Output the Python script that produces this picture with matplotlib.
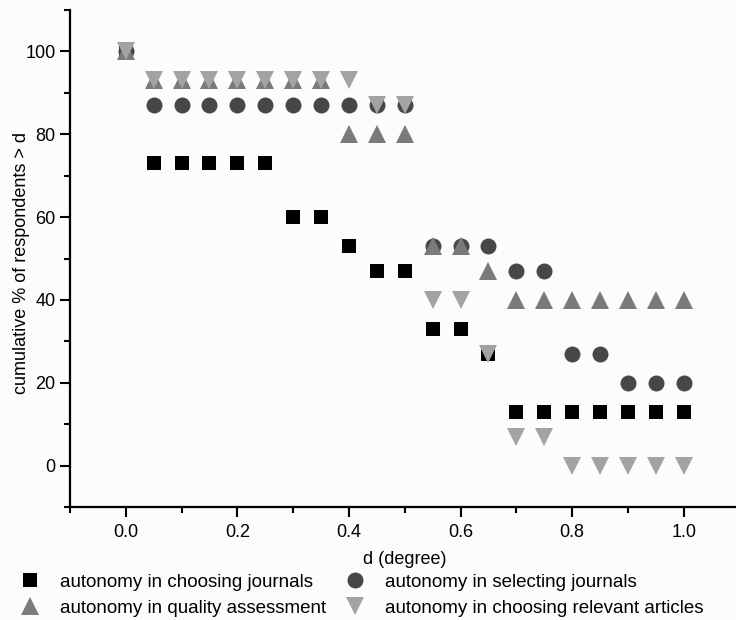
#!/usr/bin/env python3
import matplotlib
matplotlib.use('Agg')
import matplotlib.pyplot as plt
import numpy as np

# d values (degree)
d = [0.0, 0.05, 0.1, 0.15, 0.2, 0.25, 0.3, 0.35, 0.4, 0.45, 0.5,
     0.55, 0.6, 0.65, 0.7, 0.75, 0.8, 0.85, 0.9, 0.95, 1.0]

# cumulative % of respondents > d
choosing_journals = [100, 73, 73, 73, 73, 73, 60, 60, 53, 47, 47,
                     33, 33, 27, 13, 13, 13, 13, 13, 13, 13]
selecting_journals = [100, 87, 87, 87, 87, 87, 87, 87, 87, 87, 87,
                      53, 53, 53, 47, 47, 27, 27, 20, 20, 20]
quality_assessment = [100, 93, 93, 93, 93, 93, 93, 93, 80, 80, 80,
                      53, 53, 47, 40, 40, 40, 40, 40, 40, 40]
relevant_articles = [100, 93, 93, 93, 93, 93, 93, 93, 93, 87, 87,
                     40, 40, 27, 7, 7, 0, 0, 0, 0, 0]

labels = ['autonomy in choosing journals', 'autonomy in selecting journals',
          'autonomy in quality assessment', 'autonomy in choosing relevant articles']

plt.rcParams['font.family'] = ['Liberation Sans', 'DejaVu Sans']

fig = plt.figure(figsize=(7.36, 6.2), dpi=100, facecolor='#fcfcfc')
ax = fig.add_axes([70/736, 113/620, 669.6/736, 497/620])
ax.set_facecolor('#fcfcfc')

h1, = ax.plot(d, choosing_journals, 's', color='black', markersize=10,
              markeredgewidth=0, linestyle='none')
h2, = ax.plot(d, selecting_journals, 'o', color='#474747', markersize=11.5,
              markeredgewidth=0, linestyle='none')
h3, = ax.plot(d, quality_assessment, '^', color='#7a7a7a', markersize=12.5,
              markeredgewidth=0, linestyle='none')
h4, = ax.plot(d, relevant_articles, 'v', color='#a3a3a3', markersize=12.5,
              markeredgewidth=0, linestyle='none')

ax.set_xlim(-0.1, 1.1)
ax.set_ylim(-10, 110)
ax.set_xticks(np.arange(0, 1.01, 0.2))
ax.set_xticks(np.arange(-0.1, 1.11, 0.1), minor=True)
ax.set_yticks(np.arange(0, 101, 20))
ax.set_yticks(np.arange(-10, 111, 10), minor=True)
ax.xaxis.set_major_formatter(plt.FormatStrFormatter('%.1f'))

for side in ['top', 'right']:
    ax.spines[side].set_visible(False)
for side in ['left', 'bottom']:
    ax.spines[side].set_linewidth(1.6)

ax.tick_params(which='major', length=7, width=1.5, labelsize=13)
ax.tick_params(axis='x', which='major', pad=5.5)
ax.tick_params(which='minor', length=4.5, width=1.5)

ax.set_xlabel('d (degree)', fontsize=13, labelpad=7)
ax.set_ylabel('cumulative % of respondents > d', fontsize=13)
ax.yaxis.set_label_coords(-0.06, 0.491)

# row-wise legend: square, circle / triangle up, triangle down
fig.legend([h1, h3, h2, h4], [labels[0], labels[2], labels[1], labels[3]],
           loc='upper left', bbox_to_anchor=(13/736, 0.0871),
           ncol=2, frameon=False, fontsize=13.5,
           handlelength=1.0, handletextpad=1.1, columnspacing=1.05,
           labelspacing=0.48, borderaxespad=0.0)

fig.savefig('out.png', dpi=100, facecolor=fig.get_facecolor())
